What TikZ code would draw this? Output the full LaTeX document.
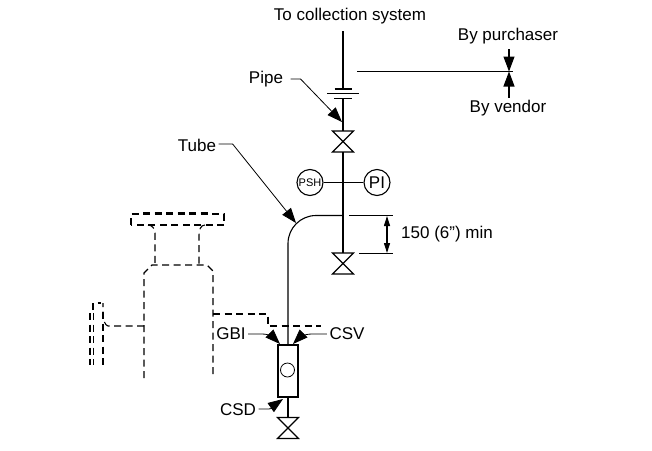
\documentclass[tikz,border=0pt]{standalone}
\usepackage{fontspec}
\setmainfont{Liberation Sans}
\usetikzlibrary{positioning,arrows.meta}
\tikzset{
    lbl/.style={inner sep=0pt, font=\fontsize{17}{19}\selectfont},
    inst/.style={circle, draw, inner sep=0pt, minimum size=26pt},
    dash line/.style={dash pattern=on 7pt off 4.5pt},
    big tip/.style={-{Triangle[length=15pt,width=11pt]}},
    dim tip/.style={{Triangle[length=10pt,width=6pt]}-{Triangle[length=10pt,width=6pt]}},
    valve/.pic={
        \coordinate (-top) at (0,-10.5);
        \coordinate (-bot) at (0,10.5);
        \draw (-10.5,-10.5) -- (10.5,-10.5) -- (-10.5,10.5) -- (10.5,10.5) -- cycle;
    }
}
\begin{document}
\begin{tikzpicture}[x=1pt, y=-1pt, line width=1.1pt]
        \useasboundingbox (0,0) rectangle (652,450);
        % Labels
        \node (collect) at (350,16) [lbl] {To collection system};
        \node (purch) at (508,36) [lbl] {By purchaser};
        \node (vendor) at (508,108) [lbl] {By vendor};
        \node (pipelbl) at (266,79) [lbl] {Pipe};
        \node (tubelbl) at (197,145) [lbl] {Tube};
        \node (mindim) at (447,234) [lbl] {150 (6") min};
        \node (gbi) at (231,334) [lbl] {GBI};
        \node (csv) at (347,334) [lbl] {CSV};
        \node (csd) at (238,410) [lbl] {CSD};
        % Instruments
        \node (psh) at (310,182.5) [inst, font=\fontsize{11}{12}\selectfont] {PSH};
        \node (pi) at (377,182.5) [inst, font=\fontsize{17}{19}\selectfont] {PI};
        \node (gauge) at (288,371) [draw, inner sep=0pt, minimum width=20pt, minimum height=52pt] {};
        \node (glass) at (287.5,370) [circle, draw, line width=0.8pt, inner sep=0pt, minimum size=14pt] {};
        % Valves
        \pic (v1) at (343,141.5) {valve};
        \pic (v2) at (343,263.5) {valve};
        \pic (v3) at (288,428) {valve};
        % Points
        \coordinate (pipetop) at (343,31);
        \coordinate (fl1) at (343,89);
        \coordinate (fl3) at (343,98.5);
        \coordinate (tee) at (343,215.5);
        \coordinate (limit) at (509,71.5);
        % Pipe and tube
        \draw (pipetop) -- (fl1);
        \draw (fl3) -- (v1-top);
        \draw (v1-bot) -- (v2-top);
        \draw (334.5,89) -- (352,89);
        \draw (327,93.7) -- (359,93.7);
        \draw (334,98.5) -- (352,98.5);
        \draw (psh) -- (pi);
        \draw[rounded corners=28pt] (tee) -| (gauge.north);
        \draw (gauge.south) -- (v3-top);
        % Limit line
        \draw (357,71.5) -- (513,71.5);
        \draw[big tip] (509,49) -- (limit);
        \draw[big tip] (509,97.5) -- (limit);
        % Dimension
        \draw[line width=0.8pt] (349,215.5) -- (393,215.5);
        \draw[line width=0.8pt] (359,253) -- (393,253);
        \draw[dim tip] (387,216) -- (387,253);
        % Leaders
        \draw[big tip, line width=0.8pt] (pipelbl.east) ++(7,0) -- ++(10,0) -- (342,122);
        \draw[big tip, line width=0.8pt] (tubelbl.east) ++(2,-1) -- ++(14,0) -- (296,223);
        \draw[big tip, line width=0.8pt] (gbi.east) ++(2,0) -- (262,334) to[out=0,in=135] (280,344);
        \draw[big tip, line width=0.8pt] (csv.west) ++(-2,0) -- (312,334) to[out=180,in=45] (293,344);
        \draw[big tip, line width=0.8pt] (csd.east) ++(2,-1) -- (268,409) to[out=0,in=215] (283,399);
        % Vessel, dashed
        \begin{scope}[dash line]
            \draw (131,225) -- (131,214) -- (224,214) -- (224,225) -- cycle;
            \draw (143,212.3) -- (212,212.3);
            \draw (148,225) to[out=0,in=90] (155,233) -- (155,265);
            \draw (205,225) to[out=180,in=90] (199,235) -- (199,265);
            \draw (378,378) ++(-234,0) -- (144,273) -- (152,265) -- (207,265) -- (213,271) -- (213,378);
            \draw (213,314) -- (268,314) -- (268,326) -- (321,326);
            \draw (144,326) -- (108,326) to[out=180,in=90] (103,320) -- (103,303);
            \draw (103,312) -- (103,365);
            \draw (93,310) -- (93,303) -- (101,303);
            \draw (90,313) -- (90,365);
            \draw (93.5,313) -- (93.5,365);
        \end{scope}
    \end{tikzpicture}
\end{document}
